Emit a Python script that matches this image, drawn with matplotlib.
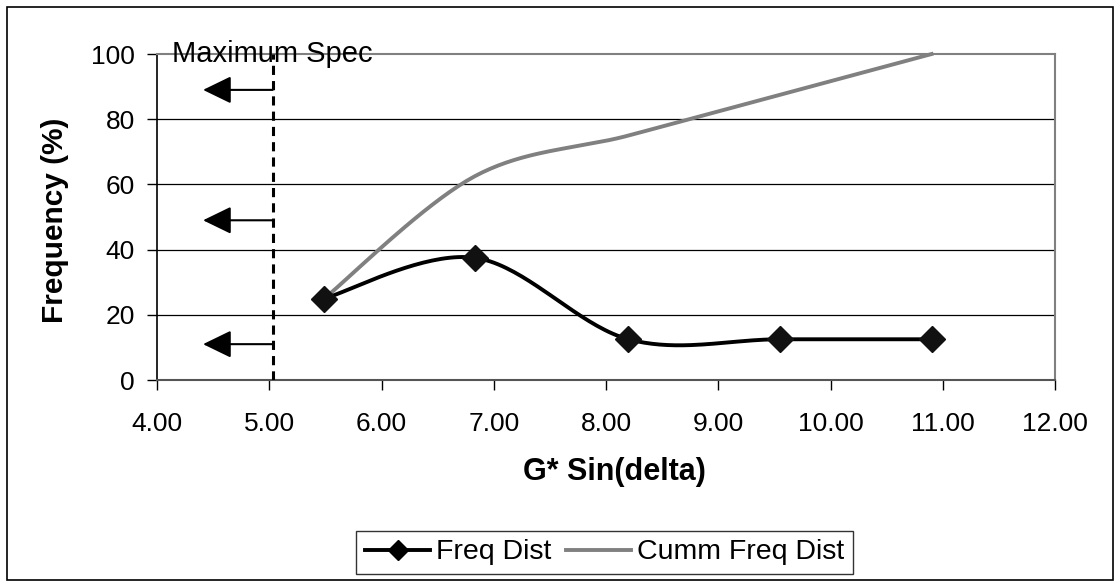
import numpy as np
import matplotlib
matplotlib.use('Agg')
from matplotlib import pyplot as plt
from matplotlib.patches import Rectangle

# data
g_sin_delta = [5.49, 6.83, 8.20, 9.55, 10.90]
freq_dist = [25.0, 37.5, 12.5, 12.5, 12.5]
cumm_freq = [25.0, 62.5, 75.0, 87.5, 100.0]
max_spec = 5.03
arrow_levels = [89, 49, 11]
arrow_tip = 4.41


def excel_smooth(x, y, n=40):
    # Excel-style smoothed line: cubic bezier, control points from neighbours
    x = np.asarray(x, float)
    y = np.asarray(y, float)
    px = np.concatenate([[x[0]], x, [x[-1]]])
    py = np.concatenate([[y[0]], y, [y[-1]]])
    xs, ys = [], []
    t = np.linspace(0, 1, n)
    for i in range(1, len(px) - 2):
        p0 = np.array([px[i], py[i]])
        p3 = np.array([px[i + 1], py[i + 1]])
        c1 = p0 + (np.array([px[i + 1], py[i + 1]]) - np.array([px[i - 1], py[i - 1]])) / 6
        c2 = p3 - (np.array([px[i + 2], py[i + 2]]) - np.array([px[i], py[i]])) / 6
        b = ((1 - t) ** 3)[:, None] * p0 + (3 * (1 - t) ** 2 * t)[:, None] * c1 \
            + (3 * (1 - t) * t ** 2)[:, None] * c2 + (t ** 3)[:, None] * p3
        xs.extend(b[:, 0])
        ys.extend(b[:, 1])
    return xs, ys


plt.rcParams['font.family'] = ['Liberation Sans', 'DejaVu Sans']

fig = plt.figure(figsize=(11.2, 5.86), dpi=100)
ax = fig.add_axes([0.1402, 0.3515, 0.8018, 0.5563])

fig.patches.append(Rectangle((0.006, 0.01), 0.988, 0.978, transform=fig.transFigure,
                             fill=False, edgecolor='black', linewidth=1.2))

for yv in [20, 40, 60, 80]:
    ax.axhline(yv, color='black', linewidth=0.9, zorder=1)

sx, sy = excel_smooth(g_sin_delta, cumm_freq)
ax.plot(sx, sy, color='#808080', linewidth=2.8, zorder=3, clip_on=False)
fx, fy = excel_smooth(g_sin_delta, freq_dist)
ax.plot(fx, fy, color='black', linewidth=2.8, zorder=4)
ax.plot(g_sin_delta, freq_dist, linestyle='none', marker='D', markersize=13,
        color='#111111', zorder=5)

ax.axvline(max_spec, color='black', linestyle=(0, (3, 2)), linewidth=2.2, zorder=4)
for lv in arrow_levels:
    ax.annotate('', xy=(arrow_tip, lv), xytext=(max_spec, lv),
                arrowprops=dict(arrowstyle='-|>,head_length=1.75,head_width=0.85',
                                color='black', linewidth=1.5, shrinkA=0, shrinkB=0))

ax.text(4.13, 100, 'Maximum Spec', fontsize=21, va='center', ha='left', zorder=6)

ax.set_xlim(4, 12)
ax.set_ylim(0, 100)
ax.set_xticks(np.arange(4, 12.01, 1))
ax.set_xticklabels(['%.2f' % v for v in np.arange(4, 12.01, 1)])
ax.set_yticks([0, 20, 40, 60, 80, 100])
ax.tick_params(axis='both', labelsize=19, length=7, width=1, direction='out')
ax.tick_params(axis='x', pad=16)
ax.tick_params(axis='y', pad=9)

ax.spines['top'].set_color('#808080')
ax.spines['top'].set_linewidth(1.5)
ax.spines['right'].set_color('#808080')
ax.spines['right'].set_linewidth(1.5)
ax.spines['left'].set_linewidth(1.2)
ax.spines['bottom'].set_color('#555555')
ax.spines['bottom'].set_linewidth(1.5)

ax.set_xlabel('G* Sin(delta)', fontsize=22, fontweight='bold')
ax.xaxis.set_label_coords(0.5095, -0.282)
ax.xaxis.label.set_va('center')
ax.set_ylabel('Frequency (%)', fontsize=21.5, fontweight='bold')
ax.yaxis.set_label_coords(-0.1136, 0.491)
ax.yaxis.label.set_va('center')
ax.yaxis.label.set_ha('center')

h1, = ax.plot([], [], color='black', linewidth=2.8, marker='D', markersize=10)
h2, = ax.plot([], [], color='#808080', linewidth=2.8)
leg = fig.legend([h1, h2], ['Freq Dist', 'Cumm Freq Dist'], loc='center',
                 bbox_to_anchor=(0.5397, 0.0572), ncol=2, fontsize=20.5, frameon=True,
                 fancybox=False, edgecolor='black', handlelength=2.3,
                 handletextpad=0.2, columnspacing=0.5, borderpad=0.3)
leg.get_frame().set_linewidth(1)

fig.savefig('out.png', dpi=100)
